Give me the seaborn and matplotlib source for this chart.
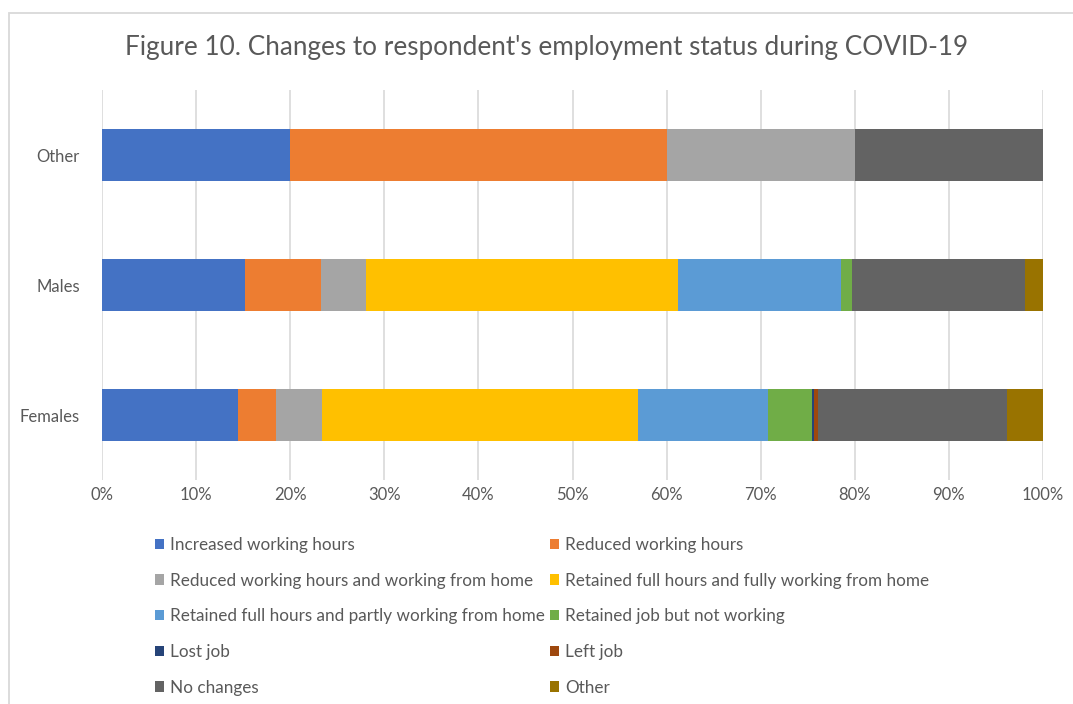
import matplotlib
matplotlib.use("Agg")
import matplotlib.pyplot as plt
from matplotlib.patches import Rectangle, Patch
import numpy as np
import pandas as pd
import seaborn as sns

# Respondent groups (top to bottom)
groups = ["Other", "Males", "Females"]

# Employment-status categories, in stacking order
statuses = [
    "Increased working hours",
    "Reduced working hours",
    "Reduced working hours and working from home",
    "Retained full hours and fully working from home",
    "Retained full hours and partly working from home",
    "Retained job but not working",
    "Lost job",
    "Left job",
    "No changes",
    "Other",
]

# Share of respondents (%) per group, one list per status
increased_hours = [20.0, 15.2, 14.4]
reduced_hours = [40.0, 8.1, 4.1]
reduced_hours_wfh = [20.0, 4.8, 4.9]
full_hours_full_wfh = [0.0, 33.1, 33.6]
full_hours_partly_wfh = [0.0, 17.3, 13.8]
retained_not_working = [0.0, 1.2, 4.7]
lost_job = [0.0, 0.0, 0.2]
left_job = [0.0, 0.0, 0.4]
no_changes = [20.0, 18.4, 20.1]
other_status = [0.0, 1.9, 3.8]

series = [increased_hours, reduced_hours, reduced_hours_wfh, full_hours_full_wfh,
          full_hours_partly_wfh, retained_not_working, lost_job, left_job,
          no_changes, other_status]

colors = ["#4472C4", "#ED7D31", "#A5A5A5", "#FFC000", "#5B9BD5",
          "#70AD47", "#264478", "#9E480E", "#636363", "#997300"]

TEXT = "#595959"
GRID = "#D9D9D9"

sns.set_theme(style="white")
plt.rcParams["font.family"] = ["Lato", "DejaVu Sans"]

fig = plt.figure(figsize=(10.73, 7.04), dpi=100)
ax = fig.add_axes([102 / 1073, 1 - 480 / 704, 941 / 1073, 390 / 704])

# Stacked bars: draw the running totals from the outermost segment inwards
values = np.array(series)
cum = np.cumsum(values, axis=0)
df = pd.DataFrame(cum.T, index=groups, columns=statuses)
df["group"] = groups
for i in range(len(statuses) - 1, -1, -1):
    sns.barplot(data=df, x=statuses[i], y="group", order=groups, orient="h",
                color=colors[i], saturation=1, width=0.4, linewidth=0, ax=ax,
                zorder=3)

ax.set_xlim(0, 100)
ax.set_ylim(2.5, -0.5)
ax.set_xticks(np.arange(0, 101, 10))
ax.set_xticklabels([f"{v}%" for v in range(0, 101, 10)])
ax.xaxis.grid(True, color=GRID, linewidth=1.2, zorder=0)
ax.set_axisbelow(True)
for s in ax.spines.values():
    s.set_visible(False)
ax.set_xlabel("")
ax.set_ylabel("")
ax.tick_params(axis="both", length=0, labelsize=12, colors=TEXT)
ax.tick_params(axis="x", pad=5)
ax.tick_params(axis="y", pad=16)

fig.text(547 / 1073, 1 - 47 / 704, "Figure 10. Changes to respondent's employment status during COVID-19",
         ha="center", va="center", fontsize=18.8, color=TEXT)

# Legend laid out row by row in two columns
handles = [Patch(facecolor=c, edgecolor="none") for c in colors]
order = list(range(0, 10, 2)) + list(range(1, 10, 2))
leg = fig.legend([handles[i] for i in order], [statuses[i] for i in order],
                 ncol=2, loc="upper left", bbox_to_anchor=(155 / 1073, 1 - 537 / 704),
                 frameon=False, fontsize=12.3, handlelength=0.55, handleheight=0.55,
                 handletextpad=0.35, columnspacing=0.25, labelspacing=1.15,
                 borderaxespad=0, borderpad=0)
for t in leg.get_texts():
    t.set_color(TEXT)

# Chart frame
fig.patches.append(Rectangle((8.5 / 1073, -0.05), 1.1, 1 - 13 / 704 + 0.05,
                             transform=fig.transFigure, fill=False,
                             edgecolor="#D9D9D9", linewidth=1.3))

fig.savefig("out.png", dpi=100, facecolor="white")
